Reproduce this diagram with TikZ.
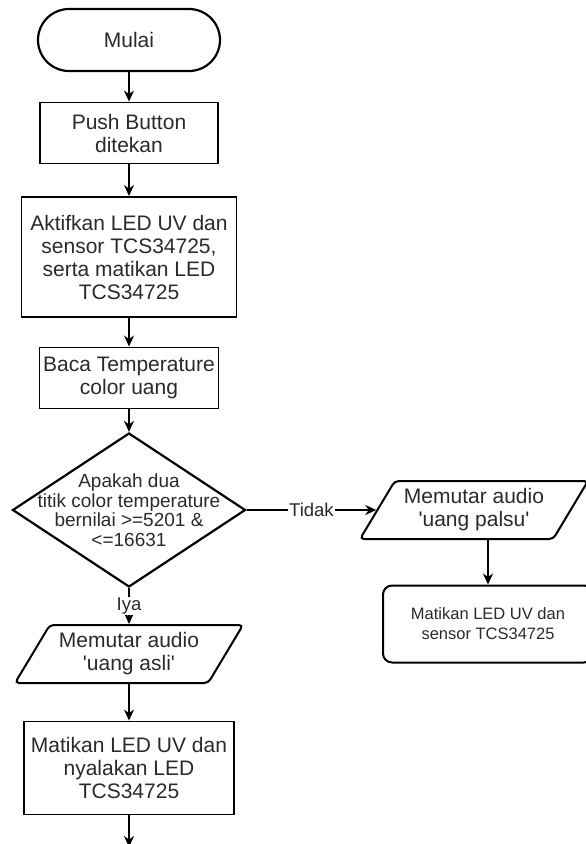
\documentclass[tikz,border=0pt]{standalone}
\usepackage{fontspec}
\setmainfont{Liberation Sans}
\usetikzlibrary{shapes.geometric,arrows.meta,positioning}
\definecolor{teks}{HTML}{2A2A2A}
\tikzstyle{terminal} = [rectangle, draw, line width=2.2pt, rounded corners=31pt,
    minimum width=182pt, minimum height=62pt, text=teks, font=\fontsize{21}{23}\selectfont]
\tikzstyle{block} = [rectangle, draw, line width=1.9pt, align=center, inner sep=0pt,
    text=teks, font=\fontsize{21}{23}\selectfont]
\tikzstyle{decision} = [diamond, draw, line width=2.2pt, inner sep=0pt,
    minimum width=233pt, minimum height=154pt]
\tikzstyle{io} = [trapezium, trapezium left angle=52, trapezium right angle=128,
    trapezium stretches body, draw, line width=2pt, rounded corners=4pt, inner sep=1pt,
    minimum width=228pt, minimum height=58pt, align=center, text=teks, font=\fontsize{21}{23}\selectfont]
\tikzstyle{note} = [rectangle, draw, line width=2pt, rounded corners=9pt,
    minimum width=210pt, minimum height=77pt, align=center, text=teks, font=\fontsize{16.5}{20}\selectfont]
\tikzstyle{line} = [draw, line width=1.7pt, ->]
\tikzstyle{lbl} = [fill=white, inner sep=1pt, text=teks, font=\fontsize{18.5}{20}\selectfont]

\begin{document}
\begin{tikzpicture}[node distance=2cm, >={Stealth[length=11pt,width=10pt]}]
    \useasboundingbox (0,0) rectangle (586pt,-844pt);

    % Nodes
    \node [terminal] (mulai) at (129pt,-40pt) {Mulai};
    \node [block, below of=mulai, node distance=93pt, minimum width=178pt, minimum height=61pt] (tombol) {Push Button\\ditekan};
    \node [block, below of=tombol, node distance=124pt, minimum width=215pt, minimum height=120pt] (aktif) {Aktifkan LED UV dan\\sensor TCS34725,\\serta matikan LED\\TCS34725};
    \node [block, below of=aktif, node distance=121pt, minimum width=179pt, minimum height=61pt] (baca) {Baca Temperature\\color uang};
    \node [decision, below of=baca, node distance=132pt] (cek) {};
    \node [align=center, text=teks, font=\fontsize{19}{19.5}\selectfont] (cekteks) at (cek) {Apakah dua\\titik color temperature\\bernilai >=5201 \&\\<=16631};
    \node [io, below of=cek, node distance=144pt] (asli) {Memutar audio\\\textquotesingle uang asli\textquotesingle};
    \node [block, below of=asli, node distance=114pt, minimum width=210pt, minimum height=93pt] (nyala) {Matikan LED UV dan\\nyalakan LED\\TCS34725};
    \coordinate [below of=nyala, node distance=79pt] (akhir);
    \node [io, right of=cek, node distance=345pt] (palsu) {Memutar audio\\\textquotesingle uang palsu\textquotesingle};
    \node [note, below of=palsu, node distance=114pt, xshift=14pt] (mati) {Matikan LED UV dan\\sensor TCS34725};

    % Connections
    \draw [line] (mulai) -- (tombol);
    \draw [line] (tombol) -- (aktif);
    \draw [line] (aktif) -- (baca);
    \draw [line] (baca) -- (cek);
    \draw [line] (cek) -- node [lbl] {Iya} (asli);
    \draw [line] (cek) -- node [lbl] {Tidak} (palsu);
    \draw [line] (mati.north |- palsu.south) -- (mati.north);
    \draw [line] (asli) -- (nyala);
    \draw [line] (nyala) -- (akhir);

\end{tikzpicture}
\end{document}
